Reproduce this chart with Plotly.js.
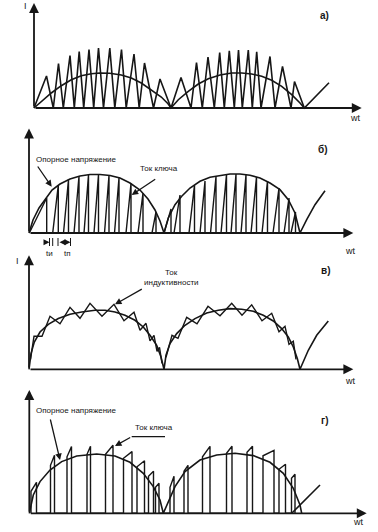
<!DOCTYPE html>
<html>
<head>
<meta charset="utf-8">
<script src="https://cdn.plot.ly/plotly-3.0.1.min.js"></script>
<style>html,body{margin:0;padding:0;background:#fff;}#chart{width:378px;height:532px;}</style>
</head>
<body>
<div id="chart"></div>
<script>
// ---------- data (wt units from the vertical axis, I units above the wt axis) ----------
// Panel а) : switch current triangles and reference half-waves
const aZigX = [0,12.5,19.3,24.5,29.3,36,40.3,45.2,49.7,55,59.7,64.5,69.5,75.8,80.8,87.5,92.2,100,105.2,110.5,119.5,126,137,
               147,157,162.5,168.3,174,180.3,185.7,190.3,195.3,200.3,204.5,208.3,214.3,218.3,222.7,227,236,241,248.5,257,260.5,270.3];
const aZigY = [0,32,0,44.5,0,52.5,0,56.5,0,58.5,0,60,0,60,0,58.5,0,54,0,45,0,29,0,
               30.5,0,45.3,0,51,0,55.5,0,57.3,0,58,0,58,0,56.3,0,51.5,0,41.5,0,26.5,0];
const aArcX = [0,7.3,17.3,27.3,37.3,47.3,57.3,65.7,75.7,87.3,97.3,107.3,117.3,127.3,134,137,
               144.3,154.3,164.3,174.3,186,197.7,207.7,217.7,227.7,237.7,247.7,257.7,266,270.3,295];
const aArcY = [0,6.7,15,22.3,28.3,32.3,34.3,35,34.7,33,30,25,18.3,11,4.3,0,
               8.3,16.7,24,29.3,33,35,35,34,31.7,27.7,21.7,13.3,5,0,25.3];

// Panel б) : reference voltage and switch current (ramp up, drop)
const bArcX = [0,4,10,17,23,31,41,51,61,71,81,91,101,111,119,126,131,135,
               139.3,146,152.7,161,171,181,191,201,211,221,231,241,251,259.3,266,269.3,271,277.7,286,296];
const bArcY = [0,13,25,35,43,49,54,57,58.5,58.5,57.5,55,50,43,34,23,12,0,
               15,28.3,36.7,45,51.7,55.7,57.7,59,59,57.7,55,50,43.3,33.3,20,8.3,0,13.3,28.3,42.3];
const bOn   = [0.3,23.7,34.5,45,55,65,75.5,85.5,97,109,123, 135,145,160,171,181.5,192,202,212,222,233,244,255,262];
const bOff  = [17.7,29.3,39.5,50,59.5,69.5,80,90,102,114,127, 142,151,165.5,176,187,197.5,207,217,227.5,238.5,250,260,266.5];
const bPeak = [35,48,53.5,56.7,58.3,58.5,57.6,55.3,49.5,40,21, 24,38,48,52,56.5,58.4,59,58.4,56,52,45,35,21];

// Panel в) : inductor current around the reference
const cArcX = [0,2,5.3,11,19.3,29.3,41,52.7,66,76,86,96,106,114.3,121,127.7,132,135,
               137,141,147.7,156,166,177.7,189.3,201,212.7,224.3,234.3,244.3,252.7,259.3,264.3,268.3,271,279.3,287.7,299.3];
const cArcY = [0,15.7,27.3,37.3,45,50.7,55,57.3,59,59,57.3,54,49,42.3,34,24,12.3,0,
               14,25.7,35.7,44,50.7,56.3,59,60.7,60,58,54,48.3,40.7,32.3,22.3,10.7,0,19,34,48.3];
const cZigX = [1.5,5,13,21,31,41,51,61,73,85,95,105,111,117,121,125,128,130.5,133, null,
               137,143,149,157.7,168,179,191,202.7,213,222.7,233,242.7,250,256,260,264.3,267];
const cZigY = [10,33,33,53,45.5,62,51,66,53,65,48.5,57,39,46,28.5,34,18,22,6, null,
               12,34,31,52,45.5,63,53.5,66,54,64.5,48.5,56,37.5,43,25,28,10];

// Panel г) : reference and switch current pulses
const dArcX = [0,4,10.7,20.7,32.4,47.4,67.4,85.7,100.7,114,124,130.7,134,
               139,145.7,155.7,170.7,187.4,205.7,224,240.7,254,264,270.7,272.4];
const dArcY = [0,18.3,31.7,43.3,51.7,57.3,59.3,57.3,51,40,26.7,13.3,0,
               11.7,26.7,41.7,53.3,58.3,60,57.7,51,40,25,8.3,0];
const dTailX = [262.4,290.7];
const dTailY = [0,28.3];
const dOn   = [1.7,21.2,37.7,57.7,76.2,94.2,107.7,119.2,126.2, 140.7,154.7,173.2,197.2,217.7,233.7,249.7,262.2];
const dOff  = [7.2,25.2,42.2,61.2,83.7,102.7,115.2,124.2,129.7, 144.7,158.7,180.7,202.7,223.2,244.7,256.2,265.7];
const dHOn  = [22,48,56.5,59,59,55,46.5,37,26, 26,42,56.5,60,61,57.5,44,35];
const dHOff = [31,58,66.7,67,68,61.7,52.5,42,30, 37,48,67,67,67,63,49,39];

// Labels
const panelLabels = ['а)', 'б)', 'в)', 'г)'];
const refLabel = 'Опорное напряжение';
const keyLabel = 'Ток ключа';
const indLabel = ['Ток', 'индуктивности'];
const timeLabels = ['tи', 'tп'];
const axisX = 'wt';
const axisY = 'I';

// ---------- layout geometry (page pixels) ----------
const W = 378, H = 532;
const panels = [
  {ax:'',  ox:34,   oy:108,   top:0,   bottom:124, xtip:327.7, ytip:105},
  {ax:'2', ox:29,   oy:233,   top:124, bottom:258, xtip:324.3, ytip:104.5},
  {ax:'3', ox:29,   oy:369.3, top:258, bottom:385, xtip:324.3, ytip:114},
  {ax:'4', ox:29.3, oy:513.3, top:385, bottom:532, xtip:337.4, ytip:123.3}
];
const INK = '#161616';
const FONT = 'Liberation Sans, Arial, sans-serif';

function line(xs, ys, ax, w) {
  return {type:'scatter', mode:'lines', x:xs, y:ys, xaxis:'x'+ax, yaxis:'y'+ax,
          line:{color:INK, width:w || 1.6}, hoverinfo:'skip', showlegend:false};
}
function sawtooth(on, off, peak) {
  const xs = [], ys = [];
  for (let i = 0; i < on.length; i++) { xs.push(on[i], off[i], off[i]); ys.push(0, peak[i], 0); }
  return [xs, ys];
}
function pulses(on, off, h1, h2) {
  const xs = [], ys = [];
  for (let i = 0; i < on.length; i++) { xs.push(on[i], on[i], off[i], off[i]); ys.push(0, h1[i], h2[i], 0); }
  return [xs, ys];
}

const traces = [];
traces.push(line(aArcX, aArcY, ''));
traces.push(line(aZigX, aZigY, ''));
traces.push(line(bArcX, bArcY, '2'));
const bs = sawtooth(bOn, bOff, bPeak);
traces.push(line(bs[0], bs[1], '2', 1.4));
traces.push(line(cArcX, cArcY, '3'));
traces.push(line(cZigX, cZigY, '3', 1.4));
traces.push(line(dArcX, dArcY, '4'));
traces.push(line(dTailX, dTailY, '4'));
const dp = pulses(dOn, dOff, dHOn, dHOff);
traces.push(line(dp[0], dp[1], '4', 1.4));

const layout = {
  width: W, height: H, margin:{l:0, r:0, t:0, b:0},
  paper_bgcolor:'#fff', plot_bgcolor:'rgba(0,0,0,0)',
  showlegend:false, annotations:[], shapes:[],
  font:{family:FONT, color:INK}
};

function txt(ax, x, y, text, size, bold) {
  return {xref:'x'+ax, yref:'y'+ax, x:x, y:y, text:text, showarrow:false,
    font:{family:FONT, size:size, color:INK, weight: bold ? 'bold' : 'normal'},
    xanchor:'center', yanchor:'middle'};
}
function arrow(ax, hx, hy, tx, ty, opts) {
  return Object.assign({xref:'x'+ax, yref:'y'+ax, axref:'x'+ax, ayref:'y'+ax,
    x:hx, y:hy, ax:tx, ay:ty, text:'', showarrow:true, arrowhead:2, arrowsize:1,
    arrowwidth:1.3, arrowcolor:INK, standoff:0, startstandoff:0}, opts || {});
}

panels.forEach(function(p) {
  layout['xaxis' + p.ax] = {domain:[0,1], range:[-p.ox, W - p.ox], visible:false, fixedrange:true,
                            anchor:'y' + p.ax};
  layout['yaxis' + p.ax] = {domain:[1 - p.bottom / H, 1 - p.top / H], range:[p.oy - p.bottom, p.oy - p.top],
                            visible:false, fixedrange:true, anchor:'x' + p.ax};
  layout.annotations.push(arrow(p.ax, p.xtip, 0, 0, 0, {arrowwidth:1.8, arrowsize:1.1}));
  layout.annotations.push(arrow(p.ax, 0, p.ytip, 0, 0, {arrowwidth:1.8, arrowsize:1.1}));
});

// panel а)
layout.annotations.push(txt('', -9, 102, axisY, 9));
layout.annotations.push(txt('', 290, 93, panelLabels[0], 10, true));
layout.annotations.push(txt('', 321, -10, axisX, 9));
// panel б)
layout.annotations.push(txt('2', 293.7, 83, panelLabels[1], 10, true));
layout.annotations.push(txt('2', 47, 73, refLabel, 8));
layout.annotations.push(txt('2', 130, 64, keyLabel, 8));
layout.annotations.push(arrow('2', 22.7, 46.3, 7.7, 68));
layout.annotations.push(arrow('2', 102.7, 38, 127.7, 54.7));
layout.annotations.push(txt('2', 20.5, -20.5, timeLabels[0], 8));
layout.annotations.push(txt('2', 38.5, -20.5, timeLabels[1], 8));
layout.annotations.push(arrow('2', 20.5, -9.3, 15, -9.3, {arrowwidth:1, arrowsize:1.2}));
layout.annotations.push(arrow('2', 41.5, -9.3, 29, -9.3, {arrowwidth:1, arrowsize:1.2, arrowside:'end+start'}));
[20.5, 23.7, 29, 41.5].forEach(function(x) {
  layout.shapes.push({type:'line', xref:'x2', yref:'y2', x0:x, x1:x, y0:-5, y1:-13, line:{color:INK, width:1}});
});
layout.annotations.push(txt('2', 321, -18, axisX, 9));
// panel в)
layout.annotations.push(txt('3', -11.7, 108.3, axisY, 9));
layout.annotations.push(txt('3', 296, 99.3, panelLabels[2], 10, true));
layout.annotations.push(txt('3', 142.7, 97, indLabel[0], 8));
layout.annotations.push(txt('3', 142.7, 87, indLabel[1], 8));
layout.annotations.push(arrow('3', 86, 65, 114.3, 81));
layout.annotations.push(txt('3', 321, -11.7, axisX, 9));
// panel г)
layout.annotations.push(txt('4', 46.7, 103.3, refLabel, 8));
layout.annotations.push(txt('4', 124.9, 86, keyLabel, 8));
layout.annotations.push(txt('4', 295.7, 93.3, panelLabels[3], 10, true));
layout.annotations.push(arrow('4', 30.7, 53.3, 20.7, 95.3));
layout.shapes.push({type:'line', xref:'x4', yref:'y4', x0:102.4, x1:135.7, y0:76.6, y1:76.6, line:{color:INK, width:1.3}});
layout.annotations.push(arrow('4', 85.7, 67.3, 102.4, 76.6));
layout.annotations.push(txt('4', 329, -8.7, axisX, 9));

Plotly.newPlot('chart', traces, layout, {staticPlot:true, displayModeBar:false});
</script>
</body>
</html>
